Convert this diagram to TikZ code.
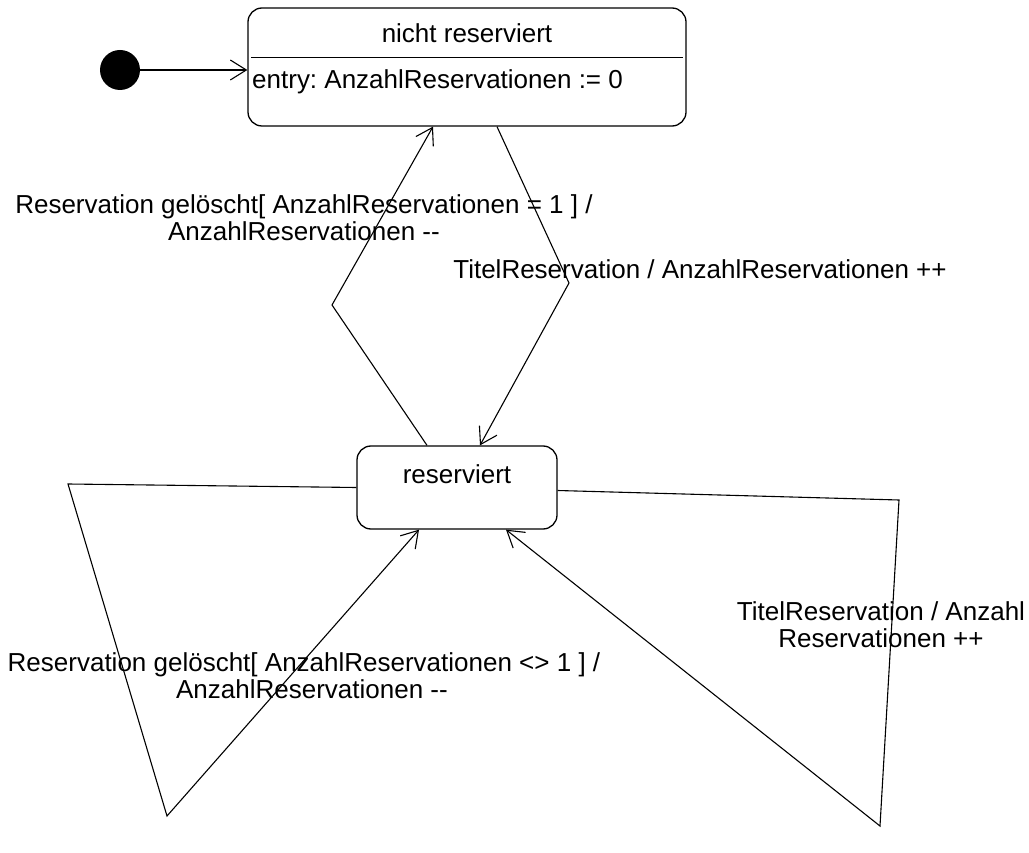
\documentclass[tikz,border=0pt]{standalone}
\usepackage{fontspec}
\setmainfont{Liberation Sans}
\usetikzlibrary{arrows.meta,calc}
\frenchspacing

\begin{document}
\begin{tikzpicture}[x=1pt,y=-1pt,
  every node/.style={font=\fontsize{26}{27}\selectfont, inner sep=0pt},
  statebox/.style={draw, line width=1.3pt, rounded corners=14pt},
  trans/.style={draw, line width=1.1pt,
    -{Straight Barb[length=16pt,width=20pt,line width=1.1pt]}},
  lbl/.style={align=center}]

  \useasboundingbox (0,0) rectangle (1029,853);

  % initial pseudo-state
  \node[circle, fill=black, minimum size=40pt] (init) at (120,70) {};

  % state "nicht reserviert" with its entry action
  \node[statebox, minimum width=438pt, minimum height=118pt] (nr) at (467,67) {};
  \node[anchor=base] (nrtitle) at (467,43) {nicht reserviert};
  \draw[line width=1.1pt] ($(nr.north west)+(4,50)$) -- ($(nr.north east)+(-4,50)$);
  \node[anchor=base west] (nrentry) at (252,89) {entry: AnzahlReservationen := 0};

  % state "reserviert"
  \node[statebox, minimum width=200pt, minimum height=83pt] (res) at (457,487.5) {};
  \node[anchor=base] (restitle) at (457,483) {reserviert};

  % bend points of the transitions
  \coordinate (b1) at (332,305);
  \coordinate (b2) at (569,283);
  \coordinate (l1) at (68,484);
  \coordinate (l2) at (167,816);
  \coordinate (r1) at (899,500);
  \coordinate (r2) at (880,826);

  % transitions
  \draw[trans] (init.east) -- (init.east -| nr.west);
  \draw[trans] ([xshift=-30pt]res.north) -- (b1) -- ([xshift=-34pt]nr.south);
  \draw[trans] ([xshift=30pt]nr.south) -- (b2) -- ([xshift=23pt]res.north);
  \draw[trans] (res.west) -- (l1) -- (l2) -- ([xshift=-38pt]res.south);
  \draw[trans] ([yshift=-3pt]res.east) -- (r1) -- (r2) -- ([xshift=49pt]res.south);

  % transition labels
  \node[lbl] (lab1) at (304,218)
    {Reservation gelöscht[ AnzahlReservationen = 1 ] /\\AnzahlReservationen -{}-};
  \node[anchor=base] (lab2) at (700,279)
    {TitelReservation / AnzahlReservationen ++};
  \node[lbl] (lab3) at (304,676)
    {Reservation gelöscht[ AnzahlReservationen <> 1 ] /\\\hspace*{16pt}AnzahlReservationen -{}-};
  \node[lbl] (lab4) at (881,625)
    {TitelReservation / Anzahl\\Reservationen ++};
\end{tikzpicture}
\end{document}
